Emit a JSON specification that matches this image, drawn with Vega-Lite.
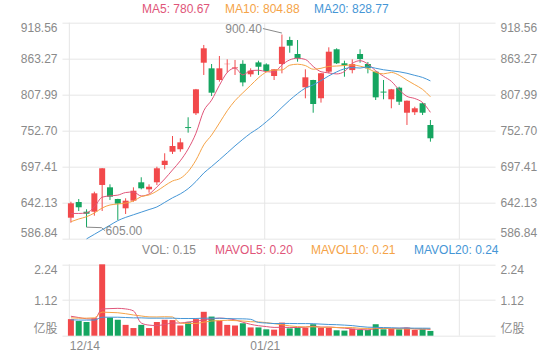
{
  "$schema": "https://vega.github.io/schema/vega-lite/v6.json",
  "width": 433,
  "height": 313,
  "autosize": "none",
  "padding": {"left": 62, "top": 22.7, "right": 65, "bottom": 24.3},
  "background": "white",
  "config": {
    "view": {"stroke": null},
    "font": "Liberation Sans, Noto Sans CJK SC, sans-serif",
    "axis": {"labelColor": "#8a8a8a", "labelFontSize": 12, "domain": false, "ticks": false, "tickSize": 0, "gridColor": "#e6e6e6", "labelPadding": 5, "title": null},
    "legend": {"labelFontSize": 12, "labelLimit": 0, "padding": 0, "symbolSize": 0, "symbolStrokeWidth": 0, "symbolOpacity": 0, "labelOffset": 0}
  },
  "data": {"values": [
    {"i":0,"o":619.5,"h":644.0,"l":611.8,"c":641.6,"v":0.52,"d":"up","ma5":626,"ma10":613.4,"ma20":null,"mv5":0.61,"mv10":0.56,"mv20":0.50},
    {"i":1,"o":643.6,"h":648.2,"l":629.8,"c":635.5,"v":0.46,"d":"down","ma5":626,"ma10":617.5,"ma20":null,"mv5":0.57,"mv10":0.55,"mv20":0.49},
    {"i":2,"o":628.7,"h":632.4,"l":605.0,"c":625.6,"v":0.43,"d":"down","ma5":627,"ma10":621,"ma20":587,"mv5":0.53,"mv10":0.55,"mv20":0.49},
    {"i":3,"o":628.7,"h":659.4,"l":622.6,"c":656.9,"v":0.55,"d":"up","ma5":636,"ma10":626.7,"ma20":594,"mv5":0.52,"mv10":0.56,"mv20":0.49},
    {"i":4,"o":669.7,"h":695.5,"l":629.8,"c":695.3,"v":2.24,"d":"up","ma5":651.0,"ma10":634.4,"ma20":601,"mv5":0.84,"mv10":0.74,"mv20":0.58},
    {"i":5,"o":666.1,"h":670.7,"l":646.6,"c":651.7,"v":0.57,"d":"down","ma5":653.0,"ma10":639.0,"ma20":608,"mv5":0.85,"mv10":0.73,"mv20":0.58},
    {"i":6,"o":648.2,"h":648.5,"l":616.0,"c":641.0,"v":0.50,"d":"down","ma5":654.1,"ma10":640.5,"ma20":615,"mv5":0.858,"mv10":0.72,"mv20":0.58},
    {"i":7,"o":633.9,"h":649.3,"l":625.2,"c":645.6,"v":0.34,"d":"up","ma5":658.1,"ma10":642.0,"ma20":620,"mv5":0.84,"mv10":0.69,"mv20":0.57},
    {"i":8,"o":645.6,"h":666.1,"l":644.0,"c":660.9,"v":0.24,"d":"up","ma5":658.9,"ma10":645.1,"ma20":624,"mv5":0.778,"mv10":0.65,"mv20":0.56},
    {"i":9,"o":673.8,"h":681.5,"l":663.0,"c":664.6,"v":0.34,"d":"down","ma5":652.8,"ma10":651.9,"ma20":628,"mv5":0.398,"mv10":0.619,"mv20":0.56},
    {"i":10,"o":663.0,"h":670.7,"l":657.8,"c":667.0,"v":0.24,"d":"up","ma5":655.8,"ma10":654.4,"ma20":632,"mv5":0.332,"mv10":0.591,"mv20":0.55},
    {"i":11,"o":673.8,"h":697.7,"l":669.7,"c":695.3,"v":0.43,"d":"up","ma5":666.7,"ma10":660.4,"ma20":636,"mv5":0.318,"mv10":0.588,"mv20":0.55},
    {"i":12,"o":700.3,"h":718.3,"l":693.7,"c":706.9,"v":0.50,"d":"up","ma5":678.9,"ma10":668.5,"ma20":643,"mv5":0.35,"mv10":0.595,"mv20":0.55},
    {"i":13,"o":720.7,"h":744.8,"l":717.2,"c":729.5,"v":0.49,"d":"up","ma5":692.7,"ma10":675.8,"ma20":650,"mv5":0.40,"mv10":0.589,"mv20":0.55},
    {"i":14,"o":724.5,"h":741.3,"l":720.7,"c":735.1,"v":0.32,"d":"up","ma5":706.8,"ma10":679.8,"ma20":656,"mv5":0.396,"mv10":0.397,"mv20":0.54},
    {"i":15,"o":758.5,"h":773.5,"l":749.9,"c":757.0,"v":0.42,"d":"down","ma5":724.8,"ma10":690.3,"ma20":664,"mv5":0.432,"mv10":0.382,"mv20":0.54},
    {"i":16,"o":779.6,"h":817.0,"l":777.0,"c":816.4,"v":0.52,"d":"up","ma5":749.0,"ma10":707.8,"ma20":675,"mv5":0.45,"mv10":0.384,"mv20":0.54},
    {"i":17,"o":857.2,"h":884.4,"l":838.4,"c":879.3,"v":0.75,"d":"up","ma5":783.5,"ma10":731.2,"ma20":688,"mv5":0.50,"mv10":0.425,"mv20":0.55},
    {"i":18,"o":848.6,"h":855.2,"l":806.1,"c":811.2,"v":0.60,"d":"down","ma5":799.8,"ma10":746.2,"ma20":698,"mv5":0.522,"mv10":0.461,"mv20":0.55},
    {"i":19,"o":830.7,"h":867.5,"l":828.1,"c":848.6,"v":0.47,"d":"up","ma5":822.5,"ma10":764.6,"ma20":708.3,"mv5":0.552,"mv10":0.474,"mv20":0.547},
    {"i":20,"o":855.0,"h":862.4,"l":842.0,"c":855.5,"v":0.34,"d":"up","ma5":842.2,"ma10":783.5,"ma20":718.9,"mv5":0.536,"mv10":0.484,"mv20":0.538},
    {"i":21,"o":848.8,"h":861.4,"l":838.4,"c":850.0,"v":0.32,"d":"up","ma5":848.9,"ma10":799.0,"ma20":729.7,"mv5":0.496,"mv10":0.473,"mv20":0.531},
    {"i":22,"o":855.5,"h":861.0,"l":821.0,"c":827.0,"v":0.39,"d":"down","ma5":838.5,"ma10":811.0,"ma20":739.7,"mv5":0.424,"mv10":0.462,"mv20":0.529},
    {"i":23,"o":839.4,"h":848.6,"l":835.7,"c":844.9,"v":0.26,"d":"up","ma5":845.2,"ma10":822.5,"ma20":749.1,"mv5":0.356,"mv10":0.439,"mv20":0.514},
    {"i":24,"o":857.7,"h":860.3,"l":838.4,"c":851.0,"v":0.26,"d":"down","ma5":845.7,"ma10":834.1,"ma20":756.9,"mv5":0.314,"mv10":0.433,"mv20":0.415},
    {"i":25,"o":854.6,"h":856.2,"l":843.4,"c":844.4,"v":0.20,"d":"down","ma5":843.5,"ma10":842.8,"ma20":766.6,"mv5":0.286,"mv10":0.411,"mv20":0.397},
    {"i":26,"o":836.8,"h":847.5,"l":830.7,"c":847.1,"v":0.19,"d":"up","ma5":842.9,"ma10":845.9,"ma20":776.9,"mv5":0.26,"mv10":0.378,"mv20":0.381},
    {"i":27,"o":855.2,"h":900.4,"l":840.9,"c":881.7,"v":0.41,"d":"up","ma5":853.8,"ma10":846.1,"ma20":788.7,"mv5":0.264,"mv10":0.344,"mv20":0.385},
    {"i":28,"o":892.0,"h":897.1,"l":872.5,"c":883.3,"v":0.23,"d":"down","ma5":861.5,"ma10":853.4,"ma20":799.8,"mv5":0.258,"mv10":0.307,"mv20":0.384},
    {"i":29,"o":870.6,"h":892.0,"l":858.7,"c":864.0,"v":0.25,"d":"down","ma5":864.1,"ma10":854.9,"ma20":809.8,"mv5":0.256,"mv10":0.285,"mv20":0.38},
    {"i":30,"o":819.5,"h":847.1,"l":802.6,"c":834.8,"v":0.25,"d":"up","ma5":862.2,"ma10":852.8,"ma20":818.2,"mv5":0.266,"mv10":0.276,"mv20":0.38},
    {"i":31,"o":830.7,"h":831.0,"l":780.5,"c":793.9,"v":0.36,"d":"down","ma5":851.5,"ma10":847.2,"ma20":823.1,"mv5":0.30,"mv10":0.28,"mv20":0.377},
    {"i":32,"o":802.6,"h":841.5,"l":796.0,"c":841.0,"v":0.25,"d":"up","ma5":843.4,"ma10":848.6,"ma20":829.8,"mv5":0.268,"mv10":0.266,"mv20":0.364},
    {"i":33,"o":843.4,"h":880.8,"l":840.9,"c":874.1,"v":0.25,"d":"up","ma5":841.6,"ma10":851.5,"ma20":837.0,"mv5":0.272,"mv10":0.265,"mv20":0.352},
    {"i":34,"o":877.8,"h":879.3,"l":855.2,"c":856.3,"v":0.17,"d":"down","ma5":840.0,"ma10":852.1,"ma20":843.1,"mv5":0.256,"mv10":0.256,"mv20":0.345},
    {"i":35,"o":856.3,"h":860.3,"l":835.7,"c":853.2,"v":0.16,"d":"down","ma5":843.7,"ma10":852.9,"ma20":847.9,"mv5":0.238,"mv10":0.252,"mv20":0.332},
    {"i":36,"o":845.9,"h":862.4,"l":840.9,"c":855.2,"v":0.22,"d":"up","ma5":856.0,"ma10":853.8,"ma20":849.8,"mv5":0.21,"mv10":0.255,"mv20":0.317},
    {"i":37,"o":870.6,"h":877.8,"l":857.2,"c":862.9,"v":0.18,"d":"down","ma5":860.3,"ma10":851.9,"ma20":849.0,"mv5":0.196,"mv10":0.232,"mv20":0.288},
    {"i":38,"o":855.2,"h":858.3,"l":840.9,"c":848.6,"v":0.18,"d":"down","ma5":855.2,"ma10":848.4,"ma20":850.9,"mv5":0.182,"mv10":0.227,"mv20":0.267},
    {"i":39,"o":843.4,"h":843.4,"l":800.0,"c":804.1,"v":0.36,"d":"down","ma5":844.8,"ma10":842.4,"ma20":848.7,"mv5":0.22,"mv10":0.238,"mv20":0.262},
    {"i":40,"o":812.9,"h":830.7,"l":801.1,"c":811.4,"v":0.20,"d":"down","ma5":836.4,"ma10":840.1,"ma20":846.4,"mv5":0.228,"mv10":0.233,"mv20":0.255},
    {"i":41,"o":801.1,"h":817.0,"l":787.3,"c":816.4,"v":0.22,"d":"up","ma5":828.7,"ma10":842.3,"ma20":844.8,"mv5":0.228,"mv10":0.219,"mv20":0.25},
    {"i":42,"o":818.9,"h":820.4,"l":792.3,"c":797.4,"v":0.20,"d":"down","ma5":815.6,"ma10":838.0,"ma20":843.3,"mv5":0.232,"mv10":0.214,"mv20":0.24},
    {"i":43,"o":780.5,"h":799.2,"l":761.7,"c":798.9,"v":0.25,"d":"up","ma5":805.6,"ma10":830.4,"ma20":841.0,"mv5":0.246,"mv10":0.214,"mv20":0.24},
    {"i":44,"o":781.2,"h":789.7,"l":777.0,"c":787.3,"v":0.18,"d":"up","ma5":802.3,"ma10":823.5,"ma20":837.8,"mv5":0.21,"mv10":0.215,"mv20":0.236},
    {"i":45,"o":795.0,"h":796.0,"l":777.0,"c":780.5,"v":0.20,"d":"down","ma5":796.1,"ma10":816.3,"ma20":834.6,"mv5":0.21,"mv10":0.219,"mv20":0.236},
    {"i":46,"o":761.7,"h":769.3,"l":736.1,"c":741.3,"v":0.15,"d":"down","ma5":781.1,"ma10":804.9,"ma20":829.3,"mv5":0.196,"mv10":0.212,"mv20":0.234}
  ]},
  "encoding": {
    "x": {
      "field": "i", "type": "quantitative",
      "scale": {"domain": [-0.5, 53.625], "nice": false, "zero": false},
      "axis": {"values": [-0.2, 24.8, 49.7], "grid": false, "title": null, "labelPadding": 5,
        "labelExpr": "datum.value < 0 ? '12/14' : (datum.value < 30 ? '01/21' : '')",
        "labelAlign": {"condition": {"test": "datum.value < 0", "value": "left"}, "value": "center"}}
    }
  },
  "layer": [
    {
      "data": {"values": [{"i": -0.2}, {"i": 24.8}, {"i": 49.7}]},
      "mark": {"type": "rule", "color": "#e6e6e6", "strokeWidth": 1},
      "encoding": {
        "y": {"datum": 586.84, "type": "quantitative", "scale": {"domain": [586.84, 918.56], "range": [216.3, 0], "nice": false, "zero": false}, "axis": null},
        "y2": {"datum": 918.56}
      }
    },
    {
      "data": {"values": [{"i": -0.2}, {"i": 24.8}, {"i": 49.7}]},
      "mark": {"type": "rule", "color": "#e6e6e6", "strokeWidth": 1},
      "encoding": {
        "y": {"datum": 0, "type": "quantitative", "scale": {"domain": [0, 2.24], "range": [313, 241.6], "nice": false, "zero": false}, "axis": null},
        "y2": {"datum": 2.24}
      }
    },
    {
      "mark": {"type": "rule", "strokeWidth": 1},
      "encoding": {
        "y": {"field": "l", "type": "quantitative", "scale": {"domain": [586.84, 918.56], "range": [216.3, 0], "nice": false, "zero": false},
          "axis": {"orient": "left", "grid": true, "values": [586.84, 642.13, 697.41, 752.70, 807.99, 863.27, 918.56], "format": ".2f", "labelFlush": true, "title": null}},
        "y2": {"field": "h"},
        "color": {"field": "d", "type": "nominal", "scale": {"domain": ["up", "down"], "range": ["#f2494b", "#15a560"]}, "legend": null}
      }
    },
    {
      "mark": {"type": "bar", "size": 6},
      "encoding": {
        "y": {"field": "o", "type": "quantitative", "scale": {"domain": [586.84, 918.56], "range": [216.3, 0], "nice": false, "zero": false},
          "axis": {"orient": "right", "grid": false, "values": [586.84, 642.13, 697.41, 752.70, 807.99, 863.27, 918.56], "format": ".2f", "labelFlush": true, "title": null}},
        "y2": {"field": "c"},
        "color": {"field": "d", "type": "nominal", "scale": {"domain": ["up", "down"], "range": ["#f2494b", "#15a560"]}, "legend": null}
      }
    },
    {
      "transform": [{"fold": ["ma5", "ma10", "ma20"], "as": ["s", "val"]}],
      "mark": {"type": "line", "strokeWidth": 1, "interpolate": "monotone", "clip": true},
      "encoding": {
        "y": {"field": "val", "type": "quantitative", "scale": {"domain": [586.84, 918.56], "range": [216.3, 0], "nice": false, "zero": false}, "axis": null},
        "color": {"field": "s", "type": "nominal", "scale": {"domain": ["ma5", "ma10", "ma20"], "range": ["#e05579", "#f5a347", "#4596d6"]},
          "legend": {"orient": "none", "legendX": 68, "legendY": -19.7, "direction": "horizontal", "title": null, "columnPadding": 2,
            "labelExpr": "datum.value == 'ma5' ? 'MA5: 780.67' : (datum.value == 'ma10' ? 'MA10: 804.88' : 'MA20: 828.77')",
            "encode": {"labels": {"update": {"fill": [{"test": "datum.value == 'ma5'", "value": "#e05579"}, {"test": "datum.value == 'ma10'", "value": "#f5a347"}, {"value": "#4596d6"}]}}}}}
      }
    },
    {
      "transform": [{"filter": "datum.h == 900.4"}],
      "mark": {"type": "rule", "color": "#8a8a8a", "strokeWidth": 1, "yOffset": -1.5, "x2Offset": -19, "y2Offset": -6},
      "encoding": {
        "y": {"field": "h", "type": "quantitative", "scale": {"domain": [586.84, 918.56], "range": [216.3, 0], "nice": false, "zero": false}, "axis": null},
        "y2": {"field": "h"},
        "x2": {"field": "i"}
      }
    },
    {
      "transform": [{"filter": "datum.h == 900.4"}],
      "mark": {"type": "text", "align": "right", "baseline": "middle", "dx": -20, "dy": -6, "color": "#8a8a8a", "fontSize": 12},
      "encoding": {
        "y": {"field": "h", "type": "quantitative", "scale": {"domain": [586.84, 918.56], "range": [216.3, 0], "nice": false, "zero": false}, "axis": null},
        "text": {"field": "h", "type": "quantitative", "format": ".2f"}
      }
    },
    {
      "transform": [{"filter": "datum.l == 605"}],
      "mark": {"type": "rule", "color": "#8a8a8a", "strokeWidth": 1, "x2Offset": 15, "y2Offset": 0.5},
      "encoding": {
        "y": {"field": "l", "type": "quantitative", "scale": {"domain": [586.84, 918.56], "range": [216.3, 0], "nice": false, "zero": false}, "axis": null},
        "y2": {"field": "l"},
        "x2": {"field": "i"}
      }
    },
    {
      "transform": [{"filter": "datum.l == 605"}],
      "mark": {"type": "rule", "color": "#8a8a8a", "strokeWidth": 1, "xOffset": 15, "yOffset": 0.5, "x2Offset": 18.5, "y2Offset": 3.5},
      "encoding": {
        "y": {"field": "l", "type": "quantitative", "scale": {"domain": [586.84, 918.56], "range": [216.3, 0], "nice": false, "zero": false}, "axis": null},
        "y2": {"field": "l"},
        "x2": {"field": "i"}
      }
    },
    {
      "transform": [{"filter": "datum.l == 605"}],
      "mark": {"type": "text", "align": "left", "baseline": "middle", "dx": 19, "dy": 4, "color": "#8a8a8a", "fontSize": 12},
      "encoding": {
        "y": {"field": "l", "type": "quantitative", "scale": {"domain": [586.84, 918.56], "range": [216.3, 0], "nice": false, "zero": false}, "axis": null},
        "text": {"field": "l", "type": "quantitative", "format": ".2f"}
      }
    },
    {
      "mark": {"type": "bar", "size": 6},
      "encoding": {
        "y": {"field": "v", "type": "quantitative", "scale": {"domain": [0, 2.24], "range": [313, 241.6], "nice": false, "zero": false},
          "axis": {"orient": "left", "grid": true, "values": [0, 1.12, 2.24], "labelFlush": true, "title": null,
            "labelExpr": "datum.value == 0 ? '亿股' : format(datum.value, '.2f')"}},
        "y2": {"datum": 0},
        "color": {"field": "d", "type": "nominal", "scale": {"domain": ["up", "down"], "range": ["#f2494b", "#15a560"]}, "legend": null}
      }
    },
    {
      "transform": [{"fold": ["mv5", "mv10", "mv20"], "as": ["s", "val"]}],
      "mark": {"type": "line", "strokeWidth": 1, "interpolate": "monotone", "clip": true},
      "encoding": {
        "y": {"field": "val", "type": "quantitative", "scale": {"domain": [0, 2.24], "range": [313, 241.6], "nice": false, "zero": false},
          "axis": {"orient": "right", "grid": false, "values": [0, 1.12, 2.24], "labelFlush": true, "title": null,
            "labelExpr": "datum.value == 0 ? '亿股' : format(datum.value, '.2f')"}},
        "color": {"field": "s", "type": "nominal", "scale": {"domain": ["v", "mv5", "mv10", "mv20"], "range": ["#8a8a8a", "#e05579", "#f5a347", "#4596d6"]},
          "legend": {"orient": "none", "legendX": 68, "legendY": 221.3, "direction": "horizontal", "title": null, "columnPadding": 6,
            "labelExpr": "datum.value == 'v' ? 'VOL: 0.15' : (datum.value == 'mv5' ? 'MAVOL5: 0.20' : (datum.value == 'mv10' ? 'MAVOL10: 0.21' : 'MAVOL20: 0.24'))",
            "encode": {"labels": {"update": {"fill": [{"test": "datum.value == 'v'", "value": "#8a8a8a"}, {"test": "datum.value == 'mv5'", "value": "#e05579"}, {"test": "datum.value == 'mv10'", "value": "#f5a347"}, {"value": "#4596d6"}]}}}}}
      }
    }
  ],
  "resolve": {"scale": {"y": "independent", "color": "independent"}, "axis": {"y": "independent"}, "legend": {"color": "independent"}}
}
